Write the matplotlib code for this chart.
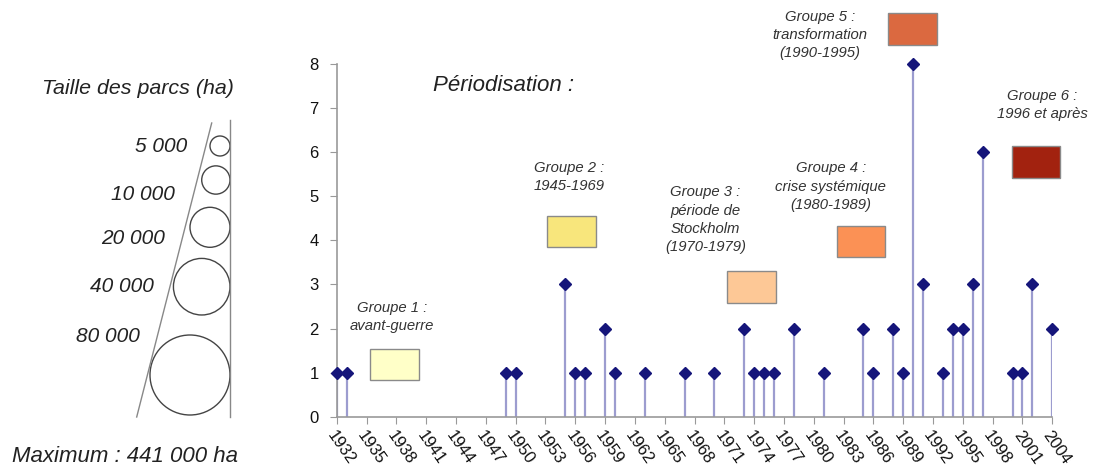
import matplotlib.pyplot as plt
import numpy as np
from matplotlib.patches import Rectangle, Circle

plt.rcParams['font.family'] = ['Liberation Sans', 'DejaVu Sans']

# donnees : nombre de parcs crees par annee
years = [1932, 1933, 1949, 1950, 1955, 1956, 1957, 1959, 1960, 1963, 1967,
         1970, 1973, 1974, 1975, 1976, 1978, 1981, 1985, 1986, 1988, 1989,
         1990, 1991, 1993, 1994, 1995, 1996, 1997, 2000, 2001, 2002, 2004]
counts = [1, 1, 1, 1, 3, 1, 1, 2, 1, 1, 1,
          1, 2, 1, 1, 1, 2, 1, 2, 1, 2, 1,
          8, 3, 1, 2, 2, 3, 6, 1, 1, 3, 2]

tick_years = list(range(1932, 2005, 3))

# periodes
group_labels = ["Groupe 1 :\navant-guerre",
                "Groupe 2 :\n1945-1969",
                "Groupe 3 :\npériode de\nStockholm\n(1970-1979)",
                "Groupe 4 :\ncrise systémique\n(1980-1989)",
                "Groupe 5 :\ntransformation\n(1990-1995)",
                "Groupe 6 :\n1996 et après"]
group_colors = ["#ffffc8", "#f8e67c", "#fdc896", "#fb9155", "#db6940", "#a2220f"]

# legende des tailles
size_values = [5000, 10000, 20000, 40000, 80000]
size_labels = ["5 000", "10 000", "20 000", "40 000", "80 000"]

# placement (annee gauche, valeur basse) des rectangles et du texte
rect_pos = [(1935.4, 0.83), (1953.2, 3.84), (1971.3, 2.59),
            (1982.3, 3.62), (1987.5, 8.44), (1999.9, 5.42)]
rect_w, rect_h = 4.85, 0.71
text_pos = [(1937.6, 2.27), (1955.4, 5.44), (1969.1, 4.47),
            (1981.7, 5.22), (1980.6, 8.66), (2003.0, 7.07)]

W, H = 1096, 472
fig = plt.figure(figsize=(W / 100, H / 100), dpi=100)

# calque en pixels pour la legende de gauche
ov = fig.add_axes([0, 0, 1, 1])
ov.set_xlim(0, W)
ov.set_ylim(H, 0)
ov.axis('off')

ax = fig.add_axes([336.7 / W, 1 - 416.7 / H, (1052.3 - 336.7) / W, (416.7 - 64) / H])
ax.patch.set_alpha(0)

ax.vlines(years, 0, counts, color='#9c9ccf', linewidth=1.6, zorder=2)
ax.plot(years, counts, linestyle='none', marker='D', markersize=6.4,
        color='#15157a', zorder=3, clip_on=False)

ax.set_xlim(1932, 2004)
ax.set_ylim(0, 8)
ax.set_yticks(range(0, 9))
ax.set_xticks(tick_years)
ax.set_xticklabels([str(y) for y in tick_years], rotation=-55, ha='left',
                   rotation_mode='anchor', fontsize=12, color='#111111')
ax.tick_params(axis='y', labelsize=12, labelcolor='#111111', length=5,
               color='#999999', pad=8)
ax.tick_params(axis='x', length=5, color='#999999', pad=3)
for s in ['top', 'right']:
    ax.spines[s].set_visible(False)
for s in ['left', 'bottom']:
    ax.spines[s].set_color('#999999')
    ax.spines[s].set_linewidth(1.2)

ax.text(1941.7, 7.52, "Périodisation :", fontsize=16, style='italic',
        color='#222222', ha='left', va='center')

for lab, col, (rx, ry), (tx, ty) in zip(group_labels, group_colors, rect_pos, text_pos):
    ax.add_patch(Rectangle((rx, ry), rect_w, rect_h, facecolor=col,
                           edgecolor='#8a8a8a', linewidth=1.0, clip_on=False, zorder=4))
    ax.text(tx, ty, lab, fontsize=10.7, style='italic', color='#333333',
            ha='center', va='center', linespacing=1.38, clip_on=False)

# legende des tailles de parcs
ov.text(138, 88, "Taille des parcs (ha)", fontsize=15.4, style='italic',
        color='#222222', ha='center', va='center')
ov.plot([230, 230], [120, 417], color='#888888', linewidth=1.0)
ov.plot([211.7, 136.7], [123, 417], color='#888888', linewidth=1.0)
radii = 10 * np.sqrt(np.array(size_values) / size_values[0])
centers_y = [146, 180, 227.3, 286.7, 375]
label_pos = [(187, 147), (175, 195), (165, 238), (154, 287), (140, 337)]
for r, cy, lab, (lx, ly) in zip(radii, centers_y, size_labels, label_pos):
    ov.add_patch(Circle((230 - r, cy), r, facecolor='none', edgecolor='#444444',
                        linewidth=1.0))
    ov.text(lx, ly, lab, fontsize=15, style='italic', color='#222222',
            ha='right', va='center')
ov.text(12, 456.7, "Maximum : 441 000 ha", fontsize=16, style='italic',
        color='#222222', ha='left', va='center')

fig.savefig("out.png", dpi=100)
